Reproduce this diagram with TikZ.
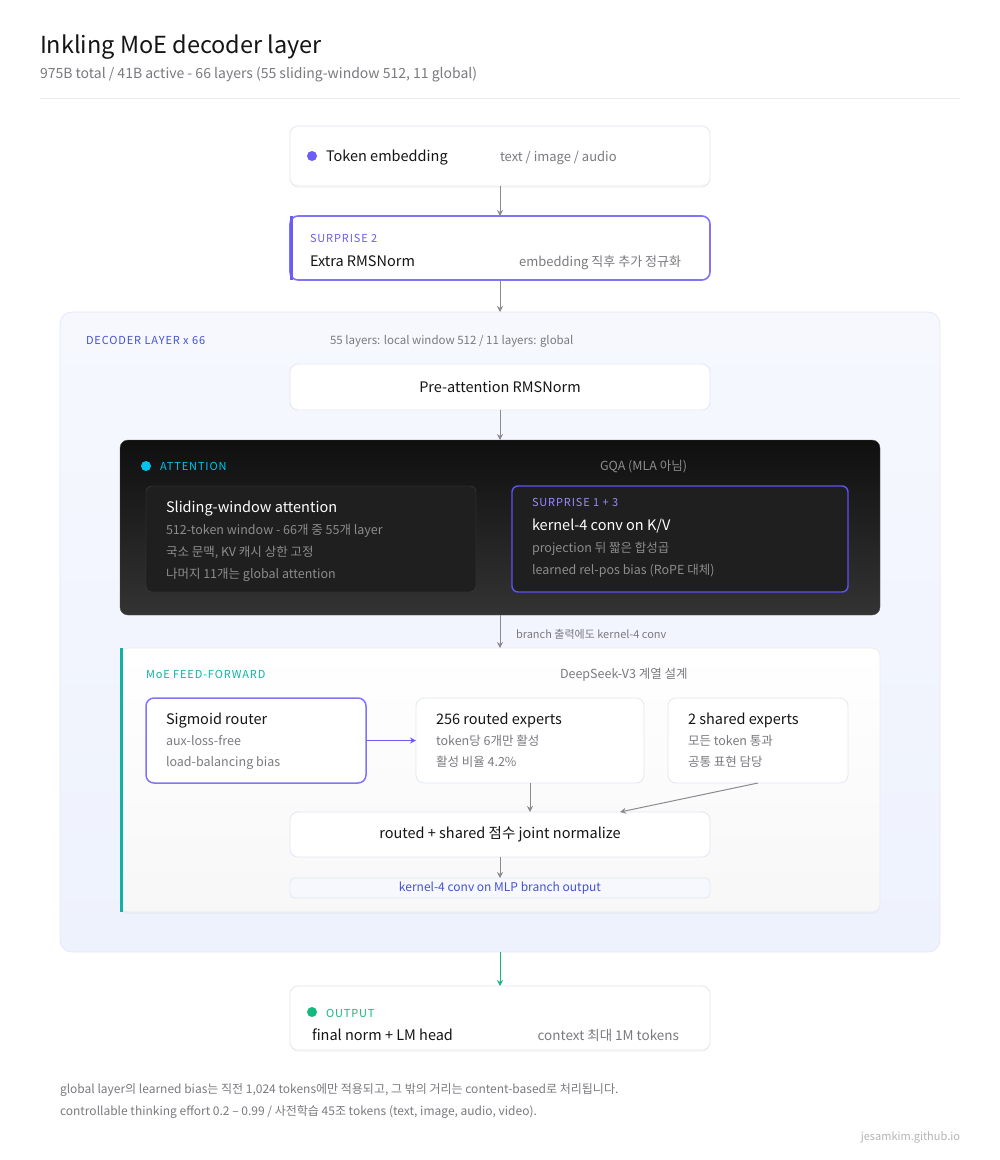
\documentclass[tikz,border=0pt]{standalone}
\usepackage{fontspec}
\usepackage{xcolor}
\setmainfont{Noto Sans CJK KR}
\newfontfamily\tagfont[LetterSpace=8]{Noto Sans CJK KR}
\usetikzlibrary{positioning,arrows.meta,shadows}
\definecolor{ink}{HTML}{151515}
\definecolor{muted}{HTML}{7A7A80}
\definecolor{faint}{HTML}{B4B4B8}
\definecolor{violet}{HTML}{6A5CF5}
\definecolor{deco}{HTML}{4453D2}
\definecolor{cyanx}{HTML}{00C4EE}
\definecolor{tealx}{HTML}{10B3A3}
\definecolor{greenx}{HTML}{14B97F}
\definecolor{cardline}{HTML}{E3E7F2}
\definecolor{flowgray}{HTML}{8A8A90}
\definecolor{paneltop}{HTML}{F6F8FE}
\definecolor{panelbot}{HTML}{EEF2FD}
\definecolor{panelline}{HTML}{E2E8F8}

\begin{document}
\begin{tikzpicture}[x=1pt, y=-1pt, every node/.style={inner sep=0pt, outer sep=0pt},
  card/.style={draw=cardline, fill=white, rounded corners=8pt, line width=0.8pt},
  lift/.style={drop shadow={opacity=0.06, shadow xshift=0pt, shadow yshift=-2pt}},
  flow/.style={draw=flowgray, line width=1pt, -{Stealth[length=6pt, width=6pt]}},
  head/.style={anchor=base west, text=ink, font=\fontsize{14.5}{17}\selectfont},
  note/.style={anchor=base west, text=muted, font=\fontsize{12.5}{15}\selectfont},
  tag/.style={anchor=base west, font=\tagfont\fontsize{11}{13}\selectfont}]
\fill[white] (0,0) rectangle (1000,1160);
\useasboundingbox (0,0) rectangle (1000,1160);

\node[anchor=base west, text=ink, font=\fontsize{23.5}{28}\selectfont] (title) at (40,53) {Inkling MoE decoder layer};
\node[anchor=base west, text=muted, font=\fontsize{14}{17}\selectfont] (subtitle) at (40,78) {975B total / 41B active - 66 layers (55 sliding-window 512, 11 global)};
\draw[draw=black!8, line width=1pt] (40,98) -- (960,98);

% input side
\node[card, lift, minimum width=420pt, minimum height=60pt] (embed) at (500,156) {};
\fill[violet] (312,156) circle (5pt);
\node[head] at (326,161) {Token embedding};
\node[note, font=\fontsize{13}{15}\selectfont] at (500,161) {text / image / audio};

\node[card, draw=violet!85, line width=1.6pt, minimum width=420pt, minimum height=64pt] (surp) at (500,248) {};
\draw[violet, line width=3.5pt] ([xshift=1.5pt]surp.north west) -- ([xshift=1.5pt]surp.south west);
\node[tag, text=violet] at (310,242) {SURPRISE 2};
\node[head] at (310,266) {Extra RMSNorm};
\node[note, font=\fontsize{13}{15}\selectfont, anchor=base east] at (681,266) {embedding 직후 추가 정규화};

% decoder stack
\node[card, draw=panelline, top color=paneltop, bottom color=panelbot, rounded corners=12pt, minimum width=880pt, minimum height=640pt] (decoder) at (500,632) {};
\node[tag, text=deco] at (86,344) {DECODER LAYER x 66};
\node[note, font=\fontsize{11.5}{14}\selectfont] at (330,344) {55 layers: local window 512 / 11 layers: global};
\node[card, minimum width=420pt, minimum height=46pt, font=\fontsize{14.5}{17}\selectfont, text=ink] (prenorm) at (500,387) {Pre-attention RMSNorm};

\node[rounded corners=8pt, draw=black!70, top color=black!94, bottom color=black!80, minimum width=760pt, minimum height=175pt] (attn) at (500,527.5) {};
\fill[cyanx] (146,466) circle (5pt);
\node[tag, text=cyanx] at (160,470) {ATTENTION};
\node[note, text=black!45] at (600,470) {GQA (MLA 아님)};
\node[rounded corners=6pt, draw=black!74, fill=black!88, minimum width=330pt, minimum height=106pt] (slide) at (311,539) {};
\node[head, text=white] at (166,512) {Sliding-window attention};
\node[note, text=black!45] at (166,534) {512-token window - 66개 중 55개 layer};
\node[note, text=black!45] at (166,556) {국소 문맥, KV 캐시 상한 고정};
\node[note, text=black!45] at (166,578) {나머지 11개는 global attention};
\node[rounded corners=6pt, draw=violet!90!blue, line width=1.4pt, fill=black!88, minimum width=336pt, minimum height=106pt] (kvconv) at (680,539) {};
\node[tag, text=violet!70!white] at (532,506) {SURPRISE 1 + 3};
\node[head, text=white] at (532,530) {kernel-4 conv on K/V};
\node[note, text=black!45] at (532,552) {projection 뒤 짧은 합성곱};
\node[note, text=black!45] at (532,574) {learned rel-pos bias (RoPE 대체)};

\node[card, lift, draw=black!8, top color=white, bottom color=black!3, minimum width=760pt, minimum height=264pt] (moe) at (500,780) {};
\draw[tealx, line width=3.5pt] ([xshift=1.5pt]moe.north west) -- ([xshift=1.5pt]moe.south west);
\node[tag, text=tealx] at (146,678) {MoE FEED-FORWARD};
\node[note] at (560,678) {DeepSeek-V3 계열 설계};
\node[card, draw=violet!85, line width=1.5pt, minimum width=220pt, minimum height=85pt] (router) at (256,740.5) {};
\node[head] at (166,724) {Sigmoid router};
\node[note] at (166,745) {aux-loss-free};
\node[note] at (166,766) {load-balancing bias};
\node[card, minimum width=228pt, minimum height=85pt] (routed) at (530,740.5) {};
\node[head] at (436,724) {256 routed experts};
\node[note] at (436,745) {token당 6개만 활성};
\node[note] at (436,766) {활성 비율 4.2\%};
\node[card, minimum width=180pt, minimum height=85pt] (shared) at (758,740.5) {};
\node[head] at (688,724) {2 shared experts};
\node[note] at (688,745) {모든 token 통과};
\node[note] at (688,766) {공통 표현 담당};
\node[card, minimum width=420pt, minimum height=45pt, font=\fontsize{14.5}{17}\selectfont, text=ink] (joint) at (500,834.5) {routed + shared 점수 joint normalize};
\node[card, fill=paneltop, rounded corners=5pt, minimum width=420pt, minimum height=20pt, text=deco, font=\fontsize{12}{14}\selectfont] (mlpconv) at (500,888) {kernel-4 conv on MLP branch output};

% output
\node[card, lift, minimum width=420pt, minimum height=64pt] (output) at (500,1018) {};
\fill[greenx] (312,1012) circle (5pt);
\node[tag, text=greenx] at (326,1017) {OUTPUT};
\node[head] at (312,1040) {final norm + LM head};
\node[note, font=\fontsize{13.5}{16}\selectfont, anchor=base east] at (679,1040) {context 최대 1M tokens};

\draw[flow] (embed) -- (surp);
\draw[flow] (surp) -- (decoder);
\draw[flow] (prenorm) -- (attn);
\draw[flow] (attn) -- node[note, font=\fontsize{11}{13}\selectfont, anchor=west, xshift=16pt, yshift=-3pt] {branch 출력에도 kernel-4 conv} (moe);
\draw[flow, draw=violet] (router) -- (routed);
\draw[flow] (routed.south) -- (routed.south |- joint.north);
\draw[flow] (shared.south) -- ([xshift=120pt]joint.north);
\draw[flow] (joint) -- (mlpconv);
\draw[flow, draw=greenx] (decoder) -- (output);

\node[note, font=\fontsize{12}{14}\selectfont] (foot1) at (60,1093) {global layer의 learned bias는 직전 1,024 tokens에만 적용되고, 그 밖의 거리는 content-based로 처리됩니다.};
\node[note, font=\fontsize{12}{14}\selectfont] (foot2) at (60,1115) {controllable thinking effort 0.2 – 0.99 / 사전학습 45조 tokens (text, image, audio, video).};
\node[anchor=base east, text=faint, font=\fontsize{11}{13}\selectfont] (credit) at (960,1140) {jesamkim.github.io};
\end{tikzpicture}
\end{document}
